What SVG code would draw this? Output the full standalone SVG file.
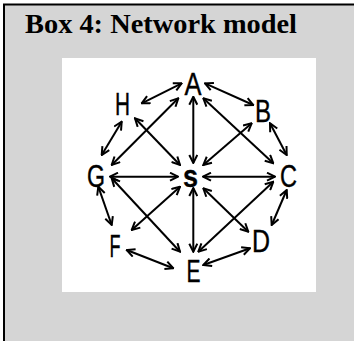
<svg xmlns="http://www.w3.org/2000/svg" width="354" height="341" viewBox="0 0 354 341">
<defs>
<style>
.lbl{font-family:"Liberation Sans","Noto Sans",sans-serif;font-size:32px;fill:#000;stroke:#000;stroke-width:0.4;text-anchor:middle}
.edge{stroke:#000;stroke-width:2;fill:none;marker-start:url(#ah);marker-end:url(#ah)}
</style>
<marker id="ah" viewBox="0 0 10 10" refX="9" refY="5" markerWidth="10" markerHeight="10" markerUnits="userSpaceOnUse" orient="auto-start-reverse">
<path d="M1,1 L9,5 L1,9" fill="none" stroke="#000" stroke-width="2"/>
</marker>
</defs>
<rect x="0" y="0" width="354" height="341" fill="#fff"/>
<rect x="3" y="4" width="351" height="337" fill="#d5d5d5"/>
<path d="M4,341 V4.5 H354" fill="none" stroke="#000" stroke-width="2"/>
<text x="25" y="33" font-family="Liberation Serif,serif" font-weight="bold" font-size="27" textLength="272" lengthAdjust="spacingAndGlyphs">Box 4: Network model</text>
<rect x="62" y="58" width="254" height="234" fill="#fff"/>
<g id="connectors">
<line class="edge" x1="181.7" y1="83.3" x2="141.7" y2="103.3"/>
<line class="edge" x1="205" y1="83.3" x2="253.3" y2="105"/>
<line class="edge" x1="178.3" y1="98.3" x2="111.7" y2="165"/>
<line class="edge" x1="193.3" y1="96.7" x2="193.3" y2="163"/>
<line class="edge" x1="203.3" y1="98.3" x2="273.3" y2="163.3"/>
<line class="edge" x1="135" y1="118.3" x2="180" y2="165"/>
<line class="edge" x1="121.7" y1="121.7" x2="101.7" y2="155"/>
<line class="edge" x1="251.7" y1="123.3" x2="203.3" y2="165"/>
<line class="edge" x1="270" y1="123.3" x2="286.7" y2="155"/>
<line class="edge" x1="110" y1="176.7" x2="178" y2="176.7"/>
<line class="edge" x1="203" y1="176.7" x2="275" y2="176.7"/>
<line class="edge" x1="98.3" y1="186.7" x2="111.7" y2="225"/>
<line class="edge" x1="111.7" y1="178.3" x2="180" y2="251.7"/>
<line class="edge" x1="180" y1="186.7" x2="131.7" y2="230"/>
<line class="edge" x1="193.3" y1="188" x2="193.3" y2="251.7"/>
<line class="edge" x1="203.3" y1="188.3" x2="248.3" y2="231.7"/>
<line class="edge" x1="273.3" y1="181.7" x2="198.3" y2="251.7"/>
<line class="edge" x1="286.7" y1="190" x2="271.7" y2="225"/>
<line class="edge" x1="126.7" y1="250" x2="173.3" y2="268.3"/>
<line class="edge" x1="250" y1="248.3" x2="203.3" y2="265"/>
</g>
<g id="node-A"><text class="lbl" x="193" y="95" textLength="17" lengthAdjust="spacingAndGlyphs">A</text></g>
<g id="node-H"><text class="lbl" x="122.5" y="115" textLength="15" lengthAdjust="spacingAndGlyphs">H</text></g>
<g id="node-B"><text class="lbl" x="263" y="122" textLength="16" lengthAdjust="spacingAndGlyphs">B</text></g>
<g id="node-G"><text class="lbl" x="96" y="187" textLength="18" lengthAdjust="spacingAndGlyphs">G</text></g>
<g id="node-S"><text class="lbl" x="190.5" y="187" font-weight="bold" font-size="35" textLength="15" lengthAdjust="spacingAndGlyphs">s</text></g>
<g id="node-C"><text class="lbl" x="288.5" y="187" textLength="17" lengthAdjust="spacingAndGlyphs">C</text></g>
<g id="node-F"><text class="lbl" x="115" y="257" textLength="11" lengthAdjust="spacingAndGlyphs">F</text></g>
<g id="node-D"><text class="lbl" x="261" y="252" textLength="18" lengthAdjust="spacingAndGlyphs">D</text></g>
<g id="node-E"><text class="lbl" x="193.5" y="282" textLength="14" lengthAdjust="spacingAndGlyphs">E</text></g>
</svg>
